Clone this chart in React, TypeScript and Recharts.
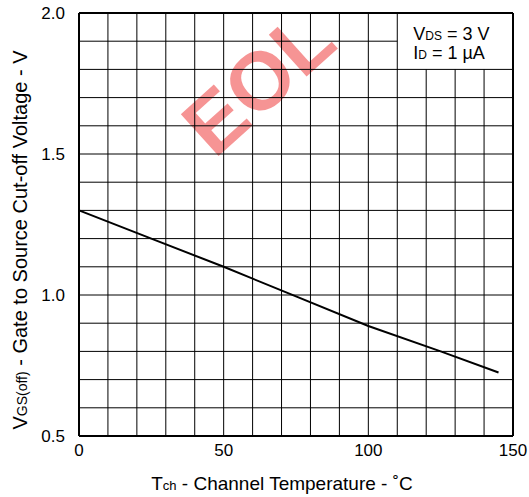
import React from 'react';
import { LineChart, Line, XAxis, YAxis, ReferenceLine, ReferenceArea } from 'recharts';

// Data
const temps = [0, 25, 50, 75, 100, 125, 145];
const vgsOff = [1.3, 1.2, 1.1, 0.995, 0.89, 0.8, 0.725];
const xTicks = [0, 50, 100, 150];
const yTicks = [0.5, 1.0, 1.5, 2.0];
const xGridFull = [10, 20, 30, 40, 50, 60, 70, 80, 90, 100, 110];
const xGridShort = [120, 130, 140];
const yGridFull = [0.6, 0.7, 0.8, 0.9, 1.0, 1.1, 1.2, 1.3, 1.4, 1.5, 1.6, 1.7, 1.8];
const yGridShort = [1.9];
const xTitleMain = 'T';
const xTitleSub = 'ch';
const xTitleRest = ' - Channel Temperature - ˚C';
const yTitleMain = 'V';
const yTitleSub = 'GS(off)';
const yTitleRest = ' - Gate to Source Cut-off Voltage - V';
const condLines = [
  { main: 'V', sub: 'DS', rest: ' = 3 V' },
  { main: 'I', sub: 'D', rest: ' = 1 µA' },
];
const watermark = 'EOL';

const data = temps.map((t, i) => ({ t, v: vgsOff[i] }));

const FONT = 'Liberation Sans, Arial, Helvetica, sans-serif';

const XTitle = (props: any) => {
  const vb = props.viewBox || {};
  const cx = vb.x + vb.width / 2 - 14;
  return (
    <text x={cx} y={490} textAnchor="middle" fontFamily={FONT} fontSize={19} fill="#000">
      {xTitleMain}
      <tspan fontSize={13}>{xTitleSub}</tspan>
      <tspan>{xTitleRest}</tspan>
    </text>
  );
};

const YTitle = () => {
  const cy = 240;
  const x = 27;
  return (
    <text
      x={x}
      y={cy}
      transform={`rotate(-90, ${x}, ${cy})`}
      textAnchor="middle"
      fontFamily={FONT}
      fontSize={20}
      fill="#000"
    >
      {yTitleMain}
      <tspan fontSize={14}>{yTitleSub}</tspan>
      <tspan>{yTitleRest}</tspan>
    </text>
  );
};

const CondLabel = (props: any) => {
  const vb = props.viewBox || {};
  const x = vb.x + 16;
  return (
    <text fontFamily={FONT} fontSize={18} fill="#000">
      {condLines.map((l, i) => (
        <tspan key={i} x={x} y={vb.y + 27 + i * 19}>
          {l.main}
          <tspan fontSize={12}>{l.sub}</tspan>
          <tspan fontSize={18}>{l.rest}</tspan>
        </tspan>
      ))}
    </text>
  );
};

const Watermark = (props: any) => {
  const vb = props.viewBox || {};
  const cx = vb.x + (vb.width || 0) / 2;
  const cy = vb.y + (vb.height || 0) / 2;
  return (
    <text
      x={cx}
      y={cy}
      transform={`rotate(-42, ${cx}, ${cy})`}
      textAnchor="middle"
      fontFamily={FONT}
      fontWeight="bold"
      fontSize={82}
      fill="rgb(238,60,60)"
      fillOpacity={0.55}
    >
      {watermark}
    </text>
  );
};

const tickStyle = { fill: '#000', fontSize: 17, fontFamily: FONT };

export default function App() {
  return (
    <div style={{ position: 'absolute', left: 0, top: 0, background: '#fff' }}>
      <LineChart width={529} height={497} data={data} margin={{ top: 13, right: 16, left: 0, bottom: 0 }}>
        <XAxis
          type="number"
          dataKey="t"
          domain={[0, 150]}
          ticks={xTicks}
          axisLine={false}
          tickLine={false}
          tick={tickStyle}
          height={61}
          interval={0}
          label={<XTitle />}
        />
        <YAxis
          type="number"
          domain={[0.5, 2.0]}
          ticks={yTicks}
          tickFormatter={(v: number) => v.toFixed(1)}
          axisLine={false}
          tickLine={false}
          tickMargin={8}
          tick={tickStyle}
          width={79}
          interval={0}
          label={<YTitle />}
        />
        {xGridFull.map((x) => (
          <ReferenceLine key={'vx' + x} x={x} stroke="#000" strokeWidth={1} />
        ))}
        {xGridShort.map((x) => (
          <ReferenceLine key={'vs' + x} segment={[{ x, y: 0.5 }, { x, y: 1.8 }]} stroke="#000" strokeWidth={1} />
        ))}
        {yGridFull.map((y) => (
          <ReferenceLine key={'hy' + y} y={y} stroke="#000" strokeWidth={1} />
        ))}
        {yGridShort.map((y) => (
          <ReferenceLine key={'hs' + y} segment={[{ x: 0, y }, { x: 110, y }]} stroke="#000" strokeWidth={1} />
        ))}
        <ReferenceLine x={0} stroke="#000" strokeWidth={2} />
        <ReferenceLine x={150} stroke="#000" strokeWidth={2} />
        <ReferenceLine y={0.5} stroke="#000" strokeWidth={2} />
        <ReferenceLine y={2.0} stroke="#000" strokeWidth={2} />
        <ReferenceArea x1={110} x2={150} y1={1.8} y2={2.0} fill="none" stroke="none" label={<CondLabel />} />
        <ReferenceArea x1={68} x2={69} y1={1.67} y2={1.69} fill="none" stroke="none" label={<Watermark />} />
        <Line
          type="linear"
          dataKey="v"
          stroke="#000"
          strokeWidth={2}
          dot={false}
          isAnimationActive={false}
        />
      </LineChart>
    </div>
  );
}
